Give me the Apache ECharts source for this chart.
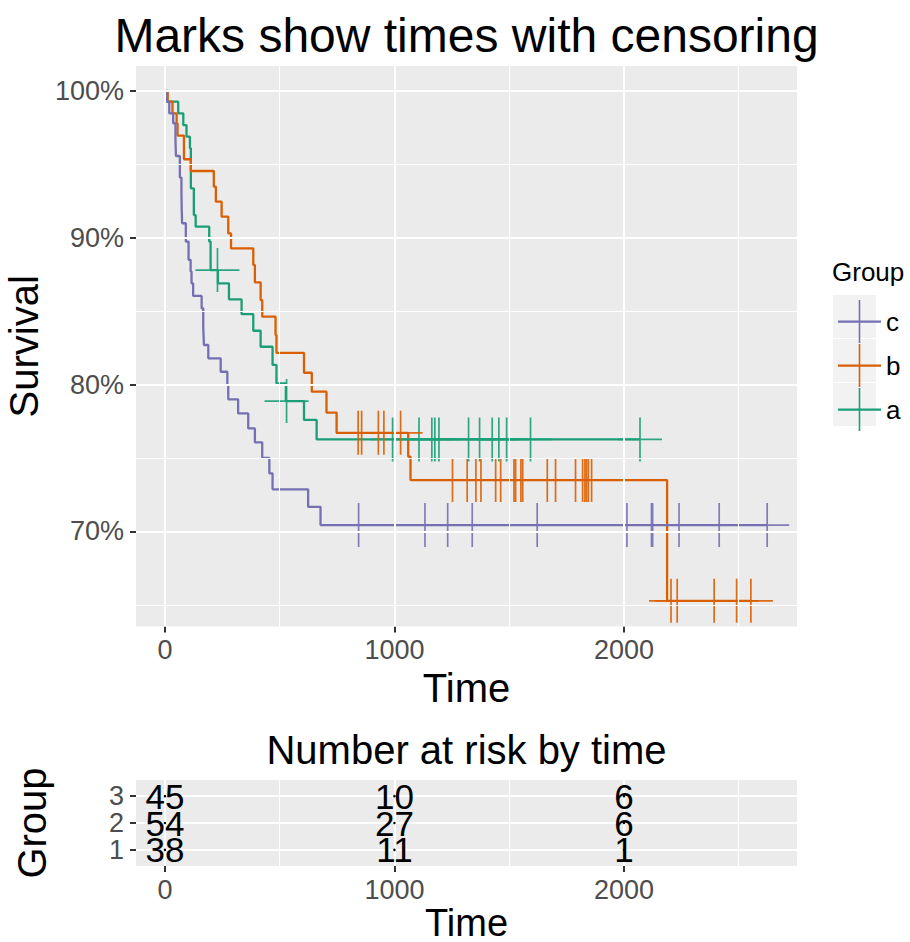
<!DOCTYPE html>
<html>
<head>
<meta charset="utf-8">
<script src="https://cdn.jsdelivr.net/npm/echarts@6/dist/echarts.min.js"></script>
<style>html,body{margin:0;padding:0;background:#fff}#c{width:910px;height:942px}</style>
</head>
<body>
<div id="c"></div>
<script>
// ---- data ----
const timeTicks = [0, 1000, 2000];
const timeMinor = [500, 1500, 2500];
const survTicks = [70, 80, 90, 100];
const survMinor = [65, 75, 85, 95];
const legendNames = ['c', 'b', 'a'];
// Kaplan-Meier step points [time, survival %]
const curveA = [[0,100],[10,99.27],[58,98.48],[80,97.68],[94,96.89],[109,96.1],[113,93.37],[126,91.55],[134,90.76],[193,89.74],[199,87.8],[231,86.9],[279,85.81],[334,84.8],[385,83.67],[417,82.58],[469,81.34],[486,80.09],[527,78.88],[606,77.6],[661,76.27],[2070,76.27]];
const curveB = [[0,100],[12,99.27],[33,98.48],[51,97.8],[55,96.96],[83,95.35],[113,94.55],[213,93.48],[222,92.46],[247,91.44],[276,90.3],[288,89.28],[385,88.15],[392,86.97],[417,85.76],[424,84.63],[482,83.38],[486,82.17],[606,80.81],[640,79.52],[704,78.1],[748,76.72],[1060,75.1],[1070,73.5],[2188,65.28],[2553,65.28]];
const curveC = [[0,100],[4,99.27],[19,98.48],[36,97.8],[46,96.7],[48,95.57],[65,94.1],[72,93.1],[73,92.0],[75,90.99],[91,89.74],[103,88.5],[112,87.7],[116,86.9],[123,86.04],[160,85.2],[167,83.9],[170,82.7],[189,81.79],[243,80.88],[272,79.97],[276,79.0],[319,78.04],[363,77.02],[392,76.07],[424,75.02],[455,73.96],[469,72.87],[624,71.68],[678,70.44],[2624,70.44]];
// censoring marks [time, survival %]
const marksA = [[229,87.8],[530,78.88],[992,76.27],[1107,76.27],[1163,76.27],[1176,76.27],[1194,76.27],[1323,76.27],[1371,76.27],[1426,76.27],[1455,76.27],[1489,76.27],[1593,76.27],[2070,76.27]];
const marksB = [[842,76.72],[857,76.72],[930,76.72],[954,76.72],[1027,76.72],[1253,73.5],[1317,73.5],[1355,73.5],[1377,73.5],[1441,73.5],[1463,73.5],[1521,73.5],[1528,73.5],[1551,73.5],[1559,73.5],[1666,73.5],[1702,73.5],[1789,73.5],[1820,73.5],[1830,73.5],[1837,73.5],[1845,73.5],[1859,73.5],[2205,65.28],[2232,65.28],[2393,65.28],[2491,65.28],[2553,65.28]];
const marksC = [[844,70.44],[1133,70.44],[1232,70.44],[1339,70.44],[1622,70.44],[2013,70.44],[2120,70.44],[2125,70.44],[2240,70.44],[2415,70.44],[2624,70.44]];
// number at risk table
const riskTimes = [0, 1000, 2000];
const riskGroups = [1, 2, 3];
const risk1 = [38, 11, 1];
const risk2 = [54, 27, 6];
const risk3 = [45, 10, 6];

// ---- styling ----
const FONT = 'Liberation Sans';
const COL = {a: '#1B9E77', b: '#D95F02', c: '#7570B3'};
const PLUS = 'path://M0,22L44,22M22,0L22,44';
const PLUS_FILLED = 'path://M0,21h44v2.2h-44zM21.2,0h1.6v44h-1.6z';

const riskData = [];
[risk1, risk2, risk3].forEach((row, gi) => {
  row.forEach((n, ti) => riskData.push([riskTimes[ti], riskGroups[gi], n]));
});

function gridLines(xMaj, xMin, yMaj, yMin) {
  const d = [];
  xMaj.forEach(v => d.push({xAxis: v, lineStyle: {width: 2}}));
  xMin.forEach(v => d.push({xAxis: v, lineStyle: {width: 1}}));
  yMaj.forEach(v => d.push({yAxis: v, lineStyle: {width: 2}}));
  yMin.forEach(v => d.push({yAxis: v, lineStyle: {width: 1}}));
  return {silent: true, symbol: ['none', 'none'], label: {show: false},
    lineStyle: {color: '#FFFFFF', type: 'solid'}, emphasis: {disabled: true}, data: d};
}

const hiddenLine = {show: true, onZero: false, lineStyle: {color: 'rgba(0,0,0,0)', width: 1}};
const tickStyle = {length: 6, inside: false, lineStyle: {color: '#333333', width: 2}};
const labStyle = {fontSize: 27, color: '#4D4D4D', fontFamily: FONT, hideOverlap: false};
const nameStyle = {fontSize: 40, color: '#000', fontFamily: FONT};
const nameStyleLow = {fontSize: 38, color: '#000', fontFamily: FONT};
const plainFmt = v => String(v);
const pctFmt = v => v + '%';

const chart = echarts.init(document.getElementById('c'), null, {renderer: 'svg'});
chart.setOption({
  animation: false,
  textStyle: {fontFamily: FONT},
  grid: [
    {left: 136, top: 66, width: 661, height: 560.5, show: true, backgroundColor: '#EBEBEB', borderWidth: 0,
     containLabel: false, outerBoundsMode: 'none'},
    {left: 136, top: 780, width: 661, height: 86, show: true, backgroundColor: '#EBEBEB', borderWidth: 0,
     containLabel: false, outerBoundsMode: 'none'}
  ],
  xAxis: [
    {gridIndex: 0, type: 'value', min: -126, max: 2754,
     axisLine: hiddenLine, axisTick: Object.assign({show: true, customValues: timeTicks}, tickStyle),
     axisLabel: Object.assign({customValues: timeTicks, margin: 10, formatter: plainFmt}, labStyle),
     splitLine: {show: false}, name: 'Time', nameLocation: 'middle', nameGap: 37, nameTextStyle: nameStyle},
    {gridIndex: 1, type: 'value', min: -126, max: 2754,
     axisLine: hiddenLine, axisTick: Object.assign({show: true, customValues: timeTicks}, tickStyle),
     axisLabel: Object.assign({customValues: timeTicks, margin: 10, formatter: plainFmt}, labStyle),
     splitLine: {show: false}, name: 'Time', nameLocation: 'middle', nameGap: 33, nameTextStyle: nameStyleLow}
  ],
  yAxis: [
    {gridIndex: 0, type: 'value', min: 63.53, max: 101.7,
     axisLine: hiddenLine, axisTick: Object.assign({show: true, customValues: survTicks}, tickStyle),
     axisLabel: Object.assign({customValues: survTicks, margin: 12, formatter: pctFmt}, labStyle),
     splitLine: {show: false}, name: 'Survival', nameLocation: 'middle', nameGap: 85, nameTextStyle: nameStyle},
    {gridIndex: 1, type: 'value', min: 0.4, max: 3.6,
     axisLine: hiddenLine, axisTick: Object.assign({show: true, customValues: riskGroups}, tickStyle),
     axisLabel: Object.assign({customValues: riskGroups, margin: 12, formatter: plainFmt, lineHeight: 22}, labStyle),
     splitLine: {show: false}, name: 'Group', nameLocation: 'middle', nameGap: 84, nameTextStyle: nameStyle}
  ],
  legend: {
    orient: 'vertical', left: 833, top: 295, itemWidth: 43, itemHeight: 43, itemGap: 1,
    icon: PLUS_FILLED, data: legendNames, selectedMode: false,
    itemStyle: {borderWidth: 0},
    textStyle: {fontSize: 26, color: '#000', fontFamily: FONT}
  },
  graphic: [
    {type: 'text', x: 466.5, y: 35, style: {text: 'Marks show times with censoring', fontSize: 48, fontFamily: FONT, fill: '#000', textAlign: 'center', textVerticalAlign: 'middle'}},
    {type: 'text', x: 466.5, y: 750, style: {text: 'Number at risk by time', fontSize: 40, fontFamily: FONT, fill: '#000', textAlign: 'center', textVerticalAlign: 'middle'}},
    {type: 'text', x: 832, y: 272, style: {text: 'Group', fontSize: 26, fontFamily: FONT, fill: '#000', textAlign: 'left', textVerticalAlign: 'middle'}},
    {type: 'rect', z: -1, shape: {x: 833, y: 295, width: 43, height: 43}, style: {fill: '#F2F2F2'}},
    {type: 'rect', z: -1, shape: {x: 833, y: 339, width: 43, height: 43}, style: {fill: '#F2F2F2'}},
    {type: 'rect', z: -1, shape: {x: 833, y: 383, width: 43, height: 43}, style: {fill: '#F2F2F2'}}
  ],
  series: [
    {name: 'gridMain', type: 'line', xAxisIndex: 0, yAxisIndex: 0, data: [], z: 1, silent: true,
     markLine: gridLines(timeTicks, timeMinor, survTicks, survMinor)},
    {name: 'gridRisk', type: 'line', xAxisIndex: 1, yAxisIndex: 1, data: [], z: 1, silent: true,
     markLine: gridLines(timeTicks, timeMinor, riskGroups, [])},
    {name: 'a', type: 'line', step: 'end', data: curveA, showSymbol: false, symbol: 'none', z: 3,
     itemStyle: {color: COL.a}, lineStyle: {color: COL.a, width: 2.3}},
    {name: 'b', type: 'line', step: 'end', data: curveB, showSymbol: false, symbol: 'none', z: 3,
     itemStyle: {color: COL.b}, lineStyle: {color: COL.b, width: 2.3}},
    {name: 'c', type: 'line', step: 'end', data: curveC, showSymbol: false, symbol: 'none', z: 3,
     itemStyle: {color: COL.c}, lineStyle: {color: COL.c, width: 2.3}},
    {name: 'a', type: 'scatter', data: marksA, symbol: PLUS, symbolSize: 44, z: 4,
     itemStyle: {color: 'transparent', borderColor: COL.a, borderWidth: 1.7, opacity: 0.9}},
    {name: 'b', type: 'scatter', data: marksB, symbol: PLUS, symbolSize: 44, z: 4,
     itemStyle: {color: 'transparent', borderColor: COL.b, borderWidth: 1.7, opacity: 0.9}},
    {name: 'c', type: 'scatter', data: marksC, symbol: PLUS, symbolSize: 44, z: 4,
     itemStyle: {color: 'transparent', borderColor: COL.c, borderWidth: 1.7, opacity: 0.9}},
    {name: 'risk', type: 'scatter', xAxisIndex: 1, yAxisIndex: 1, data: riskData, symbolSize: 2.5, z: 5,
     itemStyle: {color: '#000', opacity: 1},
     label: {show: true, position: 'inside', formatter: p => String(p.value[2]), fontSize: 35, lineHeight: 22, color: '#000', fontFamily: FONT}}
  ]
});
</script>
</body>
</html>
